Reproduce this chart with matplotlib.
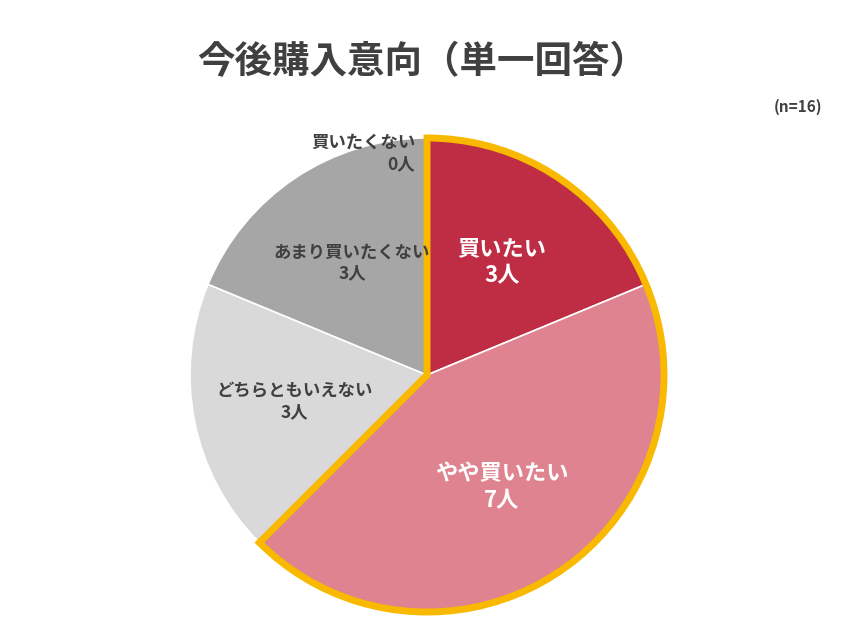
import matplotlib
matplotlib.use("Agg")
import matplotlib.pyplot as plt
from matplotlib.patches import Wedge
import numpy as np

plt.rcParams['font.family'] = ['Noto Sans CJK JP', 'DejaVu Sans']

categories = ["買いたい", "やや買いたい", "どちらともいえない", "あまり買いたくない", "買いたくない"]
values = [3, 7, 3, 3, 0]
colors = ["#BE2D44", "#DE838F", "#D9D9D9", "#A6A6A6", "#7F7F7F"]
title = "今後購入意向（単一回答）"
n_note = "(n=16)"
unit = "人"

fig = plt.figure(figsize=(8.53, 6.4), dpi=100)
ax = fig.add_axes([190/853, 28/640, 474/853, 474/640])
ax.set_aspect('equal')
ax.axis('off')

wedges, _ = ax.pie(values, colors=colors, startangle=90, counterclock=False,
                   radius=1.0, wedgeprops=dict(edgecolor='white', linewidth=1.2))
ax.set_xlim(-1, 1)
ax.set_ylim(-1, 1)

# yellow outline around the top-two (purchase intent) group
t1 = min(wedges[0].theta1, wedges[1].theta1)
t2 = max(wedges[0].theta2, wedges[1].theta2)
outline = Wedge((0, 0), 1.0, t1, t2, facecolor='none', edgecolor='#F8B900',
                linewidth=5, joinstyle='miter', clip_on=False, zorder=5)
ax.add_patch(outline)

for i, (w, cat, v) in enumerate(zip(wedges, categories, values)):
    label = f"{cat}\n{v}{unit}"
    if v == 0:
        ax.text(-0.05, 0.935, label, ha='right', va='center', fontsize=12.5,
                fontweight='bold', color='#404040', linespacing=1.2, zorder=6)
        continue
    mid = np.deg2rad((w.theta1 + w.theta2) / 2)
    r = 0.57
    x, y = r * np.cos(mid), r * np.sin(mid)
    if i < 2:
        ax.text(x, y, label, ha='center', va='center', fontsize=16,
                fontweight='bold', color='white', linespacing=1.2, zorder=6)
    else:
        ax.text(x, y, label, ha='center', va='center', fontsize=12.5,
                fontweight='bold', color='#404040', linespacing=1.2, zorder=6)

fig.text(422/853, 1 - 62/640, title, ha='center', va='center', fontsize=27,
         fontweight='bold', color='#404040')
fig.text(822/853, 1 - 107/640, n_note, ha='right', va='center', fontsize=11,
         fontweight='bold', color='#404040')

fig.savefig("out.png", dpi=100)
